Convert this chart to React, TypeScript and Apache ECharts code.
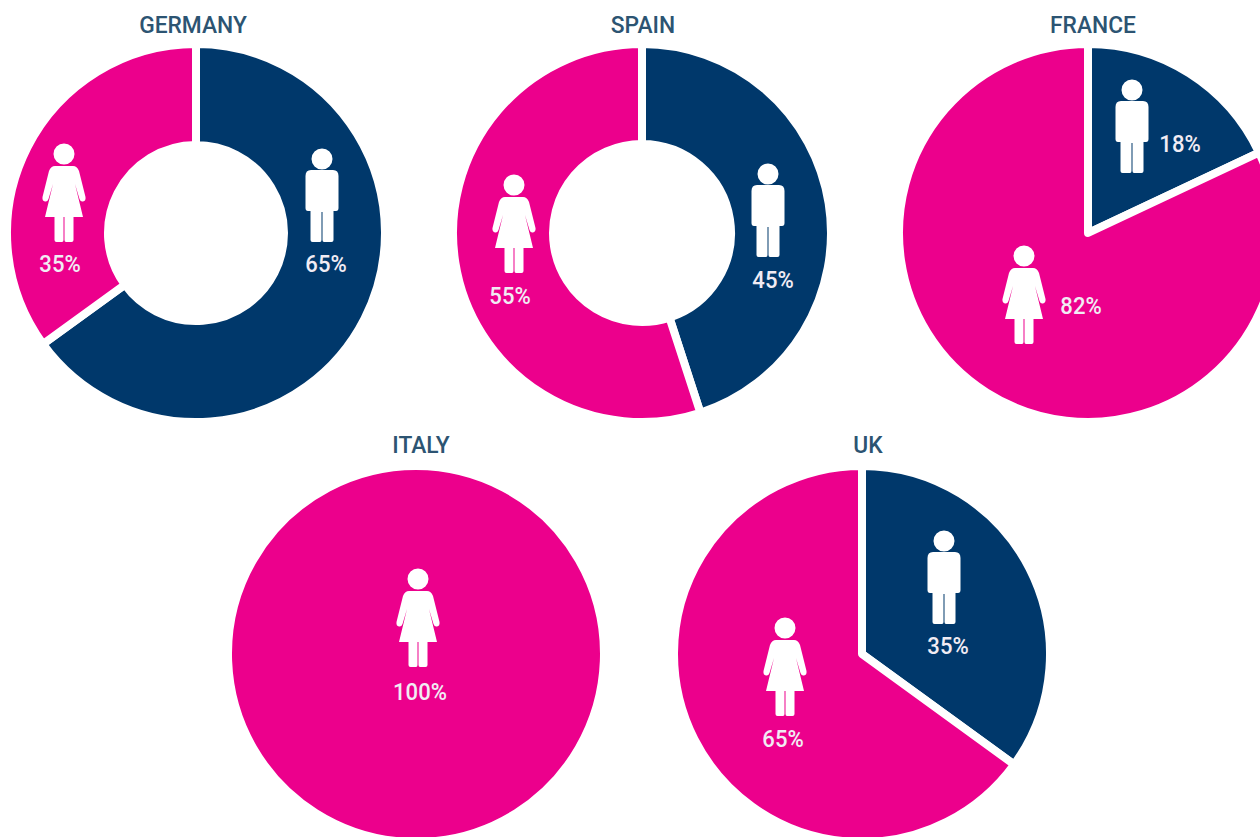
import React, { useEffect, useRef } from "react";
import * as echarts from "echarts";

const countries = ["GERMANY", "SPAIN", "FRANCE", "ITALY", "UK"];
const malePct = [65, 45, 18, 0, 35];
const femalePct = [35, 55, 82, 100, 65];

const NAVY = "#00386b";
const PINK = "#ec008c";
const TITLE = "#2c5472";
const FONT = 'Roboto, sans-serif';
const GAP = 8;

const centers = [[196, 233], [642, 233], [1088, 233], [416, 654], [862, 654]];
const radii = [185, 185, 185, 184, 184];
const holes = [92, 93, 0, 0, 0];
const titleX = [193, 643, 1093, 421, 868];
const titleY = [25, 25, 25, 445, 445];
const manPos = [[322, 149, 326, 264], [768, 164, 773, 280], [1132, 80, 1180, 144], null, [944, 531, 948, 646]];
const womanPos = [[64, 144, 60, 264], [514, 175, 510, 296], [1024, 246, 1081, 306], [418, 569, 420, 692], [785, 618, 783, 739]];

const circle = (cx: number, cy: number, r: number) =>
  `M${cx - r} ${cy}A${r} ${r} 0 1 1 ${cx + r} ${cy}A${r} ${r} 0 1 1 ${cx - r} ${cy}Z`;

const manPath =
  circle(0, 10, 10.5) +
  "M-11 21L11 21Q16.5 21 16.5 27L16.5 59Q16.5 62 14 62L11.5 62L11.5 91Q11.5 93 9.5 93L2 93Q0.5 93 0.5 91L0.5 63L-0.5 63L-0.5 91Q-0.5 93 -2 93L-9.5 93Q-11.5 93 -11.5 91L-11.5 62L-14 62Q-16.5 62 -16.5 59L-16.5 27Q-16.5 21 -11 21Z";

const womanPath =
  circle(0, 10, 10.5) +
  "M-9 22L9 22Q13 22 15 27L21.5 53Q22 57 19 57.5Q16.5 58 15.5 55L11 40L19 73L9.5 73L9.5 96Q9.5 98 7.5 98L2 98Q0.5 98 0.5 96L0.5 73L-0.5 73L-0.5 96Q-0.5 98 -2 98L-7.5 98Q-9.5 98 -9.5 96L-9.5 73L-19 73L-11 40L-15.5 55Q-16.5 58 -19 57.5Q-22 57 -21.5 53L-15 27Q-13 22 -9 22Z";

echarts.graphic.registerShape("manIcon", echarts.graphic.extendPath(manPath as any, {}) as any);
echarts.graphic.registerShape("womanIcon", echarts.graphic.extendPath(womanPath as any, {}) as any);

export default function App() {
  const ref = useRef<HTMLDivElement>(null);
  useEffect(() => {
    const chart = echarts.init(ref.current!, undefined, { renderer: "svg" });

    const series = countries.map((name, i) => ({
      type: "pie" as const,
      name,
      silent: true,
      center: centers[i],
      radius: [holes[i] ? holes[i] - GAP / 2 : 0, radii[i] + GAP / 2],
      startAngle: 90,
      clockwise: true,
      label: { show: false },
      labelLine: { show: false },
      itemStyle: { borderColor: "#ffffff", borderWidth: GAP },
      data: [
        { name: "Male", value: malePct[i], itemStyle: { color: NAVY } },
        { name: "Female", value: femalePct[i], itemStyle: { color: PINK } },
      ].filter((d) => d.value > 0),
    }));

    const pctText = (v: number, x: number, y: number) => ({
      type: "text",
      z: 10,
      x,
      y,
      scaleX: 0.92,
      style: {
        text: `${v}%`,
        fill: "#f1ecf4",
        font: `500 24px ${FONT}`,
        textAlign: "center",
        textVerticalAlign: "middle",
      },
    });

    const graphic: any[] = [];
    countries.forEach((name, i) => {
      graphic.push({
        type: "text",
        z: 10,
        x: titleX[i],
        y: titleY[i],
        scaleX: 0.95,
        style: {
          text: name,
          fill: TITLE,
          font: `500 24px ${FONT}`,
          textAlign: "center",
          textVerticalAlign: "middle",
        },
      });
      const m = manPos[i];
      if (m) {
        graphic.push({ type: "manIcon", z: 10, x: m[0], y: m[1], style: { fill: "#ffffff" } });
        graphic.push(pctText(malePct[i], m[2], m[3]));
      }
      const w = womanPos[i];
      graphic.push({ type: "womanIcon", z: 10, x: w[0], y: w[1], style: { fill: "#ffffff" } });
      graphic.push(pctText(femalePct[i], w[2], w[3]));
    });

    chart.setOption({
      animation: false,
      backgroundColor: "#ffffff",
      series,
      graphic,
    });
    return () => chart.dispose();
  }, []);

  return (
    <div
      ref={ref}
      style={{ position: "absolute", left: 0, top: 0, width: 1260, height: 837, overflow: "hidden" }}
    />
  );
}
